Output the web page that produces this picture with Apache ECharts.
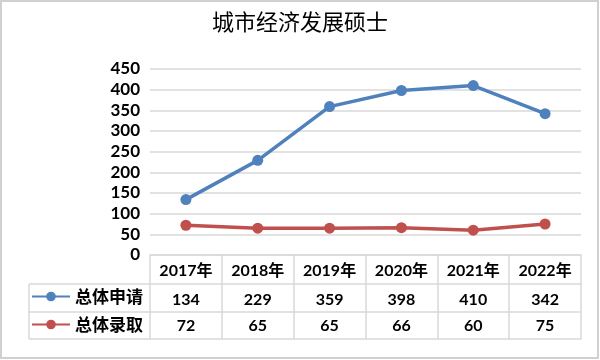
<!DOCTYPE html>
<html><head><meta charset="utf-8">
<script src="https://cdn.jsdelivr.net/npm/echarts@6/dist/echarts.min.js"></script>
<style>html,body{margin:0;padding:0;background:#fff}#c{width:600px;height:360px}</style>
</head><body><div id="c"></div>
<script>
const title = '城市经济发展硕士';
const years = ['2017年','2018年','2019年','2020年','2021年','2022年'];
const seriesNames = ['总体申请','总体录取'];
const applyValues = [134, 229, 359, 398, 410, 342];
const admitValues = [72, 65, 65, 66, 60, 75];
const yTicks = {min: 0, max: 450, interval: 50};

const FONT = "Lato, 'Noto Sans CJK SC', sans-serif";
const GRID = '#d9d9d9';
const chart = echarts.init(document.getElementById('c'), null, {renderer: 'canvas'});
const lbl = {color: '#000', fontFamily: FONT, fontWeight: 'bold', fontSize: 16};
const legLbl = {color: '#000', fontFamily: "'Noto Sans CJK SC', sans-serif", fontWeight: 'bold', fontSize: 17};
chart.setOption({
  animation: false,
  title: {text: title, left: 'center', top: 6, textStyle: {fontFamily: "'Noto Sans CJK SC', serif", fontWeight: 'normal', fontSize: 22, color: '#000'}},
  grid: {left: 150, right: 19, top: 69, bottom: 105},
  legend: [
    {data: [seriesNames[0]], left: 31, top: 288, itemWidth: 38, itemHeight: 12, itemGap: 0, padding: [0, 0], textStyle: legLbl},
    {data: [seriesNames[1]], left: 31, top: 316, itemWidth: 38, itemHeight: 12, itemGap: 0, padding: [0, 0], textStyle: legLbl}
  ],
  xAxis: [
    {type: 'category', data: years, position: 'bottom', boundaryGap: true,
     axisLine: {lineStyle: {color: GRID, width: 1.5}},
     axisTick: {show: true, length: 84, interval: 0, lineStyle: {color: GRID, width: 1.5}},
     axisLabel: Object.assign({margin: 8, interval: 0}, lbl)},
    {type: 'category', data: years, position: 'bottom', offset: 29,
     axisLine: {lineStyle: {color: GRID, width: 1.5}}, axisTick: {show: false},
     axisLabel: Object.assign({margin: 8, interval: 0, formatter: (v, i) => String(applyValues[i])}, lbl)},
    {type: 'category', data: years, position: 'bottom', offset: 57,
     axisLine: {lineStyle: {color: GRID, width: 1.5}}, axisTick: {show: false},
     axisLabel: Object.assign({margin: 6, interval: 0, formatter: (v, i) => String(admitValues[i])}, lbl)},
    {type: 'category', data: years, position: 'bottom', offset: 84,
     axisLine: {lineStyle: {color: GRID, width: 1.5}}, axisTick: {show: false}, axisLabel: {show: false}}
  ],
  yAxis: {type: 'value', min: yTicks.min, max: yTicks.max, interval: yTicks.interval,
    axisLine: {show: false}, axisTick: {show: false},
    splitLine: {lineStyle: {color: GRID, width: 1.5}},
    axisLabel: Object.assign({margin: 10}, lbl, {fontSize: 17})},
  series: [
    {name: seriesNames[0], type: 'line', data: applyValues, symbol: 'circle', symbolSize: 11,
     itemStyle: {color: '#4F81BD'}, lineStyle: {color: '#4F81BD', width: 3.5}},
    {name: seriesNames[1], type: 'line', data: admitValues, symbol: 'circle', symbolSize: 11,
     itemStyle: {color: '#C0504D'}, lineStyle: {color: '#C0504D', width: 3.5}}
  ],
  graphic: [
    {type: 'rect', shape: {x: 1, y: 1, width: 597, height: 357}, style: {fill: 'none', stroke: '#d0d0d0', lineWidth: 2}, silent: true},
    {type: 'line', shape: {x1: 29, y1: 284, x2: 150, y2: 284}, style: {stroke: GRID, lineWidth: 1.5}},
    {type: 'line', shape: {x1: 29, y1: 312, x2: 150, y2: 312}, style: {stroke: GRID, lineWidth: 1.5}},
    {type: 'line', shape: {x1: 29, y1: 339, x2: 150, y2: 339}, style: {stroke: GRID, lineWidth: 1.5}},
    {type: 'line', shape: {x1: 29, y1: 284, x2: 29, y2: 339}, style: {stroke: GRID, lineWidth: 1.5}}
  ]
});
</script></body></html>
